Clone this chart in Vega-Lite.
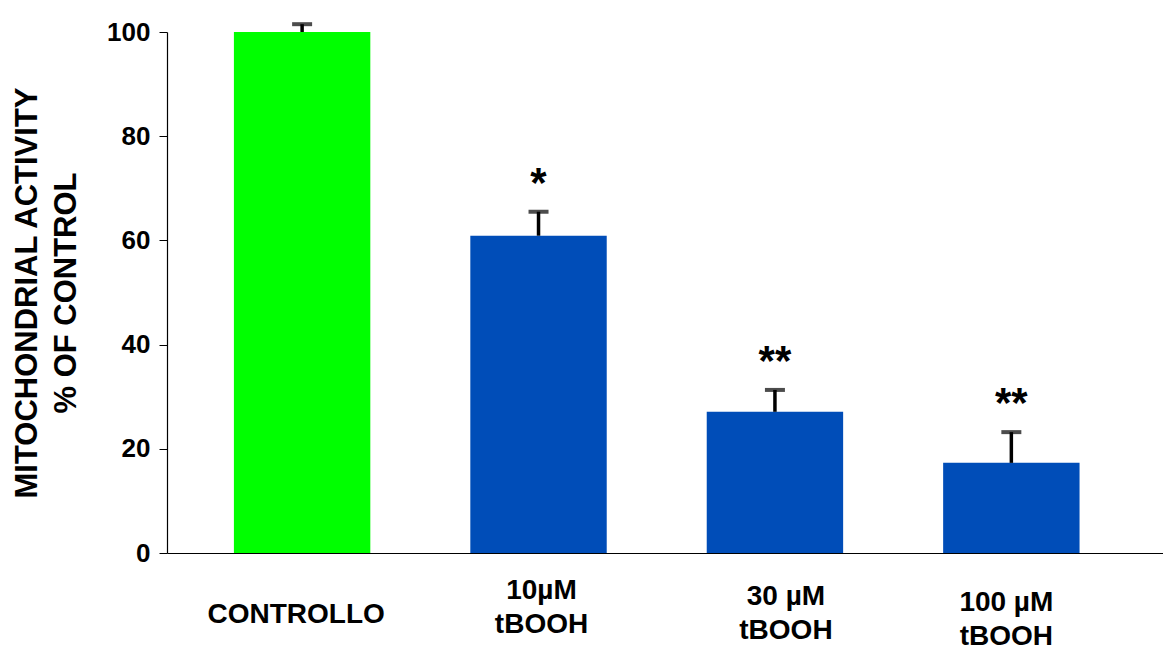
{
  "$schema": "https://vega.github.io/schema/vega-lite/v6.json",
  "autosize": "none",
  "width": 996,
  "height": 521,
  "padding": {"left": 167, "top": 32, "right": 0, "bottom": 97},
  "background": "white",
  "config": {
    "view": {"stroke": null},
    "font": "Liberation Sans"
  },
  "data": {
    "values": [
      {"group": "CONTROLLO", "kind": "control", "mean": 100, "upper": 101.5, "sig": ""},
      {"group": "10µM|tBOOH", "kind": "treated", "mean": 60.9, "upper": 65.5, "sig": "*"},
      {"group": "30 µM|tBOOH", "kind": "treated", "mean": 27.1, "upper": 31.3, "sig": "**"},
      {"group": "100 µM| tBOOH", "kind": "treated", "mean": 17.3, "upper": 23.2, "sig": "**"}
    ]
  },
  "encoding": {
    "x": {
      "field": "group",
      "type": "nominal",
      "sort": null,
      "scale": {"paddingInner": 0.423, "paddingOuter": 0.318, "align": 0.445},
      "axis": {
        "title": null,
        "labelAngle": 0,
        "labelExpr": "split(datum.label, '|')",
        "labelFont": "Liberation Sans",
        "labelFontSize": 28,
        "labelFontWeight": "bold",
        "labelColor": "black",
        "labelLineHeight": 34,
        "labelBaseline": "top",
        "labelPadding": {"condition": [
          {"test": "datum.value == 'CONTROLLO'", "value": 47},
          {"test": "datum.value == '10µM|tBOOH'", "value": 23},
          {"test": "datum.value == '30 µM|tBOOH'", "value": 29}
        ], "value": 35},
        "labelOffset": {"condition": [
          {"test": "datum.value == 'CONTROLLO'", "value": -6},
          {"test": "datum.value == '10µM|tBOOH'", "value": 3},
          {"test": "datum.value == '30 µM|tBOOH'", "value": 11}
        ], "value": -5},
        "ticks": false,
        "tickSize": 0,
        "domainColor": "black",
        "domainWidth": 1.2,
        "grid": false
      }
    }
  },
  "layer": [
    {
      "mark": {"type": "bar"},
      "encoding": {
        "y": {
          "field": "mean",
          "type": "quantitative",
          "scale": {"domain": [0, 100], "nice": false},
          "axis": {
            "title": ["MITOCHONDRIAL ACTIVITY", "% OF CONTROL"],
            "titleFont": "Liberation Sans",
            "titleFontSize": 31,
            "titleFontWeight": "bold",
            "titleColor": "black",
            "titleLineHeight": 39,
            "titlePadding": 24,
            "values": [0, 20, 40, 60, 80, 100],
            "labelFont": "Liberation Sans",
            "labelFontSize": 26,
            "labelFontWeight": "bold",
            "labelColor": "black",
            "labelPadding": 9,
            "tickSize": 8,
            "tickColor": "black",
            "domainColor": "black",
            "domainWidth": 1.2,
            "grid": false
          }
        },
        "color": {
          "field": "kind",
          "type": "nominal",
          "scale": {"domain": ["control", "treated"], "range": ["#00FF00", "#004DB8"]},
          "legend": null
        }
      }
    },
    {
      "mark": {"type": "rule", "color": "black", "strokeWidth": 3.5},
      "encoding": {
        "y": {"field": "mean", "type": "quantitative"},
        "y2": {"field": "upper"}
      }
    },
    {
      "mark": {"type": "tick", "color": "black", "size": 20, "thickness": 4, "orient": "horizontal"},
      "encoding": {
        "y": {"field": "upper", "type": "quantitative"}
      }
    },
    {
      "mark": {"type": "text", "color": "black", "fontSize": 42, "fontWeight": "bold", "font": "Liberation Sans", "align": "center", "baseline": "alphabetic", "dy": -15},
      "encoding": {
        "y": {"field": "upper", "type": "quantitative"},
        "text": {"field": "sig"}
      }
    }
  ]
}
